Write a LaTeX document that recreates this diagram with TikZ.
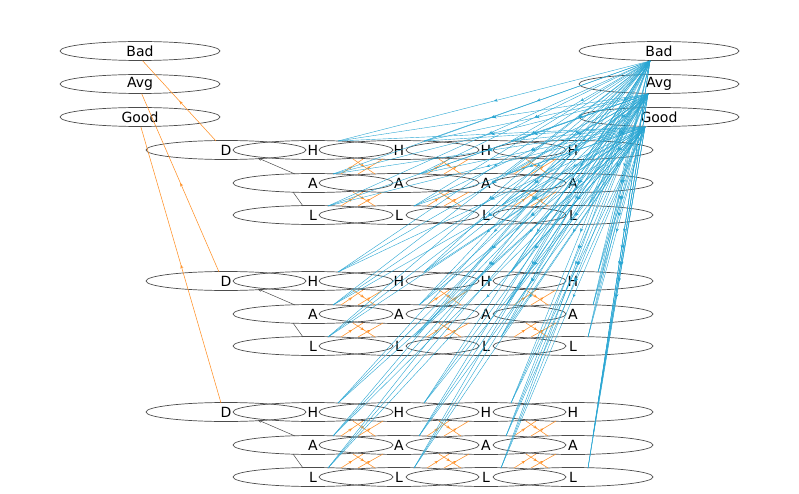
\documentclass[tikz,border=0pt]{standalone}
\usepackage{fontspec}
\setmainfont{DejaVu Sans}
\usetikzlibrary{shapes.geometric,decorations.markings,arrows.meta,calc}
\definecolor{eblue}{RGB}{40,165,210}
\definecolor{eorange}{RGB}{255,145,40}
\begin{document}
\begin{tikzpicture}[x=1pt,y=-1pt,
  nd/.style={ellipse,draw=black!70,line width=0.7pt,minimum width=160pt,minimum height=19pt,inner sep=0pt,font=\fontsize{14}{16}\selectfont},
  midarr/.style={postaction={decorate},decoration={markings,mark=at position 0.5 with {\arrow{Stealth[length=3.5pt,width=3pt]}}}},
  be/.style={eblue,line width=0.4pt,midarr},
  oe/.style={eorange,line width=0.55pt,midarr},
  ke/.style={black!70,line width=0.5pt}]
\useasboundingbox (0,0) rectangle (799,494);
\node[nd] (lBad) at (140,51) {Bad};
\node[nd] (lAvg) at (140,84) {Avg};
\node[nd] (lGood) at (140,117) {Good};
\node[nd] (rBad) at (659,51) {Bad};
\node[nd] (rAvg) at (659,84) {Avg};
\node[nd] (rGood) at (659,117) {Good};
\foreach \g/\y in {1/150,2/281,3/412}{
  \node[nd] (D\g) at (226,\y) {D};
  \foreach \c/\x in {1/313,2/399,3/486,4/573}{
    \node[nd] (H\g\c) at (\x,\y) {H};
    \node[nd] (A\g\c) at (\x,\y+33) {A};
    \node[nd] (L\g\c) at (\x,\y+65) {L};
  }
}
\coordinate (sBad) at (650,61);
\coordinate (sAvg) at (648,94);
\coordinate (sGood) at (645,127);
\draw[oe] ($(D1)+(-10,-9)$) -- (lBad.-75);
\draw[oe] ($(D2)+(-7,-9)$) -- (lAvg.-80);
\draw[oe] ($(D3)+(-5,-9)$) -- (lGood.-85);
\foreach \g in {1,2,3}{
  \draw[ke,-{Stealth[length=3.5pt,width=3pt]}] ($(A\g1)+(-18,-9)$) -- ($(D\g)+(32,8)$);
  \draw[ke] ($(L\g1)+(-10,-9)$) -- ($(A\g1)+(-20,9)$);
}
\foreach \g in {1,2,3}{
  \foreach \c in {1,2,3}{
    \draw[oe] ($(A\g\c)+(45,-9)$) -- ($(H\g\c)+(70,9)$);
    \draw[oe] ($(H\g\c)+(40,9)$) -- ($(A\g\c)+(62,-9)$);
    \draw[oe] ($(A\g\c)+(28,-9)$) -- ($(H\g\c)+(50,9)$);
    \draw[oe] ($(L\g\c)+(45,-9)$) -- ($(A\g\c)+(70,9)$);
    \draw[oe] ($(A\g\c)+(40,9)$) -- ($(L\g\c)+(62,-9)$);
    \draw[oe] ($(L\g\c)+(28,-9)$) -- ($(A\g\c)+(50,9)$);
  }
}
\foreach \s in {sBad,sAvg,sGood}{
  \foreach \g in {1,2,3}{
    \foreach \c in {1,2,3,4}{
      \draw[be] (\s) -- ($(H\g\c)+(25,-9)$);
      \draw[be] (\s) -- ($(A\g\c)+(20,-9)$);
      \draw[be] (\s) -- ($(L\g\c)+(15,-9)$);
    }
  }
}
\end{tikzpicture}
\end{document}
